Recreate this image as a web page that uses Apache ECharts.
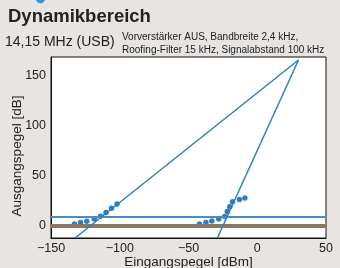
<!DOCTYPE html>
<html>
<head>
<meta charset="utf-8">
<script src="https://cdn.jsdelivr.net/npm/echarts@6/dist/echarts.min.js"></script>
<style>
    html, body {margin: 0; padding: 0; background: #e8e4e2;}
    #chart {width: 340px; height: 268px;}
</style>
</head>
<body>
<div id="chart"></div>
<script>
// measured points (Eingangspegel dBm -> Ausgangspegel dB)
let fundPointsX = [-133, -128.5, -124, -118.5, -114, -110, -106, -102];
let fundPointsY = [2, 3.3, 4.7, 7, 9.7, 13.3, 17.7, 21.7];
let imdPointsX = [-42, -37.3, -33, -28, -23.7, -21.8, -20, -18, -13, -9];
let imdPointsY = [2, 3.3, 5, 7, 9.3, 14.3, 19, 24, 26.3, 27.7];
// extrapolated lines meeting at the intercept point
let fundLineX = [-132.5, 30];
let fundLineY = [-12, 165];
let imdLineX = [-29, 30];
let imdLineY = [-12, 165];
// reference levels
let noiseLevel = 9;
let floorLevel = 0;
let xRange = [-150, 50];
let yTicks = [0, 50, 100, 150];

let zip = (xs, ys) => xs.map((x, i) => [x, ys[i]]);
let blue = '#2f7ec0';
let font = 'Liberation Sans, Arial, sans-serif';

let option = {
    backgroundColor: '#e8e4e2',
    animation: false,
    title: [
        {text: 'Dynamikbereich', left: 8, top: 7, padding: 0,
            textStyle: {fontFamily: font, fontSize: 18.5, fontWeight: 'bold', color: '#222'}},
        {text: '14,15 MHz (USB)', left: 5, top: 35, padding: 0,
            textStyle: {fontFamily: font, fontSize: 14, fontWeight: 'normal', color: '#222'}},
        {text: 'Vorverstärker AUS, Bandbreite 2,4 kHz,\nRoofing-Filter 15 kHz, Signalabstand 100 kHz',
            left: 122, top: 30, padding: 0,
            textStyle: {fontFamily: font, fontSize: 10, lineHeight: 13.5, fontWeight: 'normal', color: '#222'}}
    ],
    graphic: [
        {type: 'circle', shape: {cx: 40.5, cy: -1.2, r: 4.6}, style: {fill: '#2a9de0'}},
        {type: 'text', x: 17.5, y: 156, rotation: Math.PI / 2,
            style: {text: 'Ausgangspegel [dB]', fontFamily: font, fontSize: 13.5, fill: '#222',
                align: 'center', verticalAlign: 'middle'}}
    ],
    grid: {left: 51, right: 14, top: 57, bottom: 30, show: true, outerBoundsMode: 'none',
        backgroundColor: '#fff', borderColor: '#111', borderWidth: 1},
    xAxis: {
        type: 'value', min: xRange[0], max: xRange[1], interval: 50,
        name: 'Eingangspegel [dBm]', nameLocation: 'middle', nameGap: 17, nameMoveOverlap: false,
        nameTextStyle: {fontFamily: font, fontSize: 13.5, color: '#222'},
        axisLine: {show: true, onZero: false, lineStyle: {color: '#111', width: 1}},
        axisTick: {show: false},
        splitLine: {show: false},
        axisLabel: {fontFamily: font, fontSize: 12.5, color: '#222', margin: 4,
            formatter: v => String(v).replace('-', '\u2212')}
    },
    yAxis: {
        type: 'value', min: -12, max: 168,
        axisLine: {show: true, onZero: false, lineStyle: {color: '#111', width: 1}},
        axisTick: {show: false},
        splitLine: {show: false},
        axisLabel: {fontFamily: font, fontSize: 12.5,
            color: '#222', margin: 5, customValues: yTicks}
    },
    series: [
        {type: 'line', data: [[xRange[0], floorLevel], [xRange[1], floorLevel]], symbol: 'none',
            lineStyle: {color: '#8c7762', width: 4}},
        {type: 'line', data: [[xRange[0], noiseLevel], [xRange[1], noiseLevel]], symbol: 'none',
            lineStyle: {color: '#4a8cc8', width: 2}},
        {type: 'line', data: zip(fundLineX, fundLineY), symbol: 'none',
            lineStyle: {color: blue, width: 1.5}},
        {type: 'line', data: zip(imdLineX, imdLineY), symbol: 'none',
            lineStyle: {color: blue, width: 1.5}},
        {type: 'scatter', data: zip(fundPointsX, fundPointsY), symbolSize: 5.5,
            itemStyle: {color: blue, opacity: 1}},
        {type: 'scatter', data: zip(imdPointsX, imdPointsY), symbolSize: 5.5,
            itemStyle: {color: blue, opacity: 1}}
    ]
};

let chart = echarts.init(document.getElementById('chart'));
chart.setOption(option);
</script>
</body>
</html>
